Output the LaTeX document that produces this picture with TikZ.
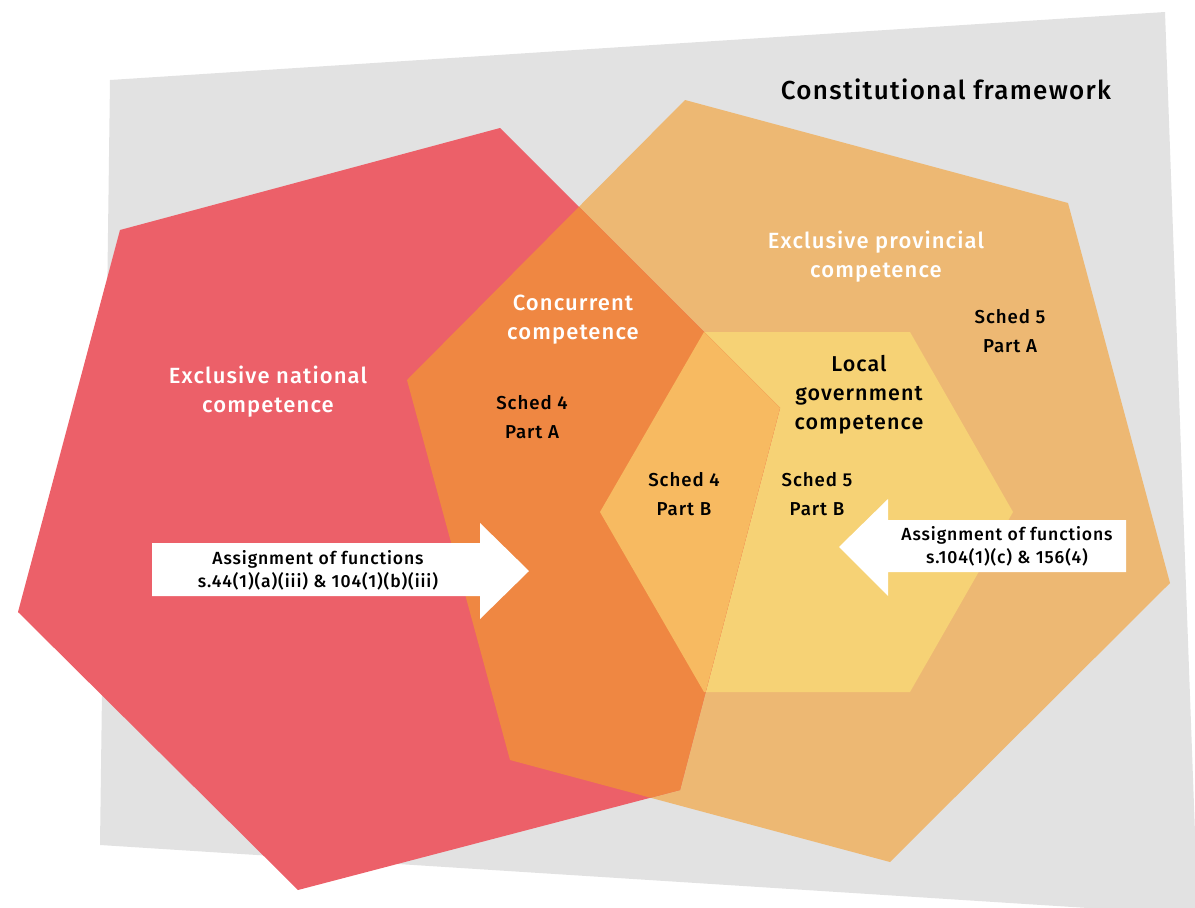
\documentclass[tikz,border=0pt]{standalone}
\usepackage{fontspec}
\setmainfont{Fira Sans}[UprightFont=* Medium, BoldFont=* SemiBold, LetterSpace=5]
\definecolor{framegrey}{HTML}{E2E2E2}
\definecolor{natred}{HTML}{EC6069}
\definecolor{provorange}{HTML}{EDB873}
\definecolor{concorange}{HTML}{EF8742}
\definecolor{localyellow}{HTML}{F6D275}
\definecolor{sharedorange}{HTML}{F7BA61}
\begin{document}
\begin{tikzpicture}[x=1pt,y=-1pt,
  area/.style={inner sep=0pt, align=center, font=\fontsize{22}{29}\selectfont},
  whitearea/.style={area, text=white},
  sched/.style={inner sep=0pt, align=center, font=\fontsize{18.7}{29}\selectfont},
  arrowtext/.style={inner sep=0pt, align=center, font=\fontsize{17.6}{23}\selectfont},
  blockarrow/.style={fill=white}]
\useasboundingbox (0,0) rectangle (1195,908);
\clip (0,0) rectangle (1195,908);

% outer frame
\coordinate (f1) at (110,80);
\coordinate (f2) at (1165,12);
\coordinate (f3) at (1198,915);
\coordinate (f4) at (100,845);
\fill[framegrey] (f1) -- (f2) -- (f3) -- (f4) -- cycle;

% national polygon
\coordinate (n1) at (120,230);
\coordinate (n2) at (500,128);
\coordinate (n3) at (780,408);
\coordinate (n4) at (680,790);
\coordinate (n5) at (298,890);
\coordinate (n6) at (18,612);

% provincial polygon
\coordinate (p1) at (685,100);
\coordinate (p2) at (1068,203);
\coordinate (p3) at (1170,583);
\coordinate (p4) at (890,862);
\coordinate (p5) at (510,760);
\coordinate (p6) at (407,380);

% local government hexagon
\coordinate (l1) at (704,332);
\coordinate (l2) at (910,332);
\coordinate (l3) at (1013,512);
\coordinate (l4) at (910,692);
\coordinate (l5) at (704,692);
\coordinate (l6) at (600,512);

\fill[provorange] (p1) -- (p2) -- (p3) -- (p4) -- (p5) -- (p6) -- cycle;
\fill[localyellow] (l1) -- (l2) -- (l3) -- (l4) -- (l5) -- (l6) -- cycle;
\fill[natred] (n1) -- (n2) -- (n3) -- (n4) -- (n5) -- (n6) -- cycle;
\begin{scope}
  \clip (n1) -- (n2) -- (n3) -- (n4) -- (n5) -- (n6) -- cycle;
  \fill[concorange] (p1) -- (p2) -- (p3) -- (p4) -- (p5) -- (p6) -- cycle;
  \fill[sharedorange] (l1) -- (l2) -- (l3) -- (l4) -- (l5) -- (l6) -- cycle;
\end{scope}

% assignment arrows
\fill[blockarrow] (152,543) -- (480,543) -- (480,523) -- (529,571)
  -- (480,619) -- (480,596) -- (152,596) -- cycle;
\fill[blockarrow] (1126,520) -- (888,520) -- (888,499) -- (839,547)
  -- (888,596) -- (888,572) -- (1126,572) -- cycle;

% labels
\node[inner sep=0pt, font=\fontsize{26}{30}\selectfont] (title) at (946,89) {Constitutional framework};
\node[whitearea] (national) at (268,392) {Exclusive national\\competence};
\node[whitearea] (concurrent) at (573,320) {Concurrent\\competence};
\node[whitearea] (provincial) at (876,257) {Exclusive provincial\\competence};
\node[area, font=\fontsize{21.5}{29}\selectfont] (local) at (859,395) {Local\\government\\competence};
\node[sched] (s5a) at (1010,331) {Sched 5\\Part A};
\node[sched] (s4a) at (532,417) {Sched 4\\Part A};
\node[sched] (s4b) at (684,494) {Sched 4\\Part B};
\node[sched] (s5b) at (817,494) {Sched 5\\Part B};
\node[arrowtext] (natassign) at (318,570) {Assignment of functions\\s.44(1)(a)(iii) \& 104(1)(b)(iii)};
\node[arrowtext] (provassign) at (1007,546) {Assignment of functions\\s.104(1)(c) \& 156(4)};
\end{tikzpicture}
\end{document}
